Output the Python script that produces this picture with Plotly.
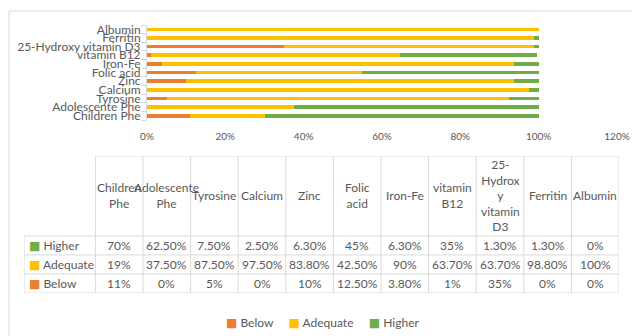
import plotly.graph_objects as go

# ---- data ----
categories = ["Children Phe", "Adolescente Phe", "Tyrosine", "Calcium", "Zinc",
              "Folic acid", "Iron-Fe", "vitamin B12", "25-Hydroxy vitamin D3",
              "Ferritin", "Albumin"]
header_labels = ["Children<br>Phe", "Adolescente<br>Phe", "Tyrosine", "Calcium", "Zinc",
                 "Folic<br>acid", "Iron-Fe", "vitamin<br>B12",
                 "25-<br>Hydrox<br>y<br>vitamin<br>D3", "Ferritin", "Albumin"]
below = [11, 0, 5, 0, 10, 12.5, 3.8, 1, 35, 0, 0]
adequate = [19, 37.5, 87.5, 97.5, 83.8, 42.5, 90, 63.7, 63.7, 98.8, 100]
higher = [70, 62.5, 7.5, 2.5, 6.3, 45, 6.3, 35, 1.3, 1.3, 0]
series_names = ["Below", "Adequate", "Higher"]
x_ticks = [0, 0.2, 0.4, 0.6, 0.8, 1.0, 1.2]

# ---- styles ----
COLORS = {"Below": "#ED7D31", "Adequate": "#FFC000", "Higher": "#70AD47"}
TXT = "#595959"
GRID = "#D9D9D9"
FONT = "Lato, DejaVu Sans, sans-serif"
W, H = 632, 336

series = {"Below": below, "Adequate": adequate, "Higher": higher}

fig = go.Figure()
for name in series_names:
    fig.add_trace(go.Bar(
        y=categories, x=[v / 100 for v in series[name]], orientation="h",
        name=name, marker=dict(color=COLORS[name], line=dict(width=0)),
        showlegend=False))

# invisible trace to anchor the table axes
fig.add_trace(go.Scatter(x=[None], y=[None], xaxis="x2", yaxis="y2",
                         showlegend=False, hoverinfo="skip"))

def fmt(v):
    return f"{int(v)}%" if float(v).is_integer() else f"{v:.2f}%"

# ---- table geometry (in table-axis units) ----
label_w = 1.5
ncol = len(categories)
header_h = 4.2
rows = ["Higher", "Adequate", "Below"]  # top to bottom
nrows = len(rows)
x_total = label_w + ncol
y_total = nrows + header_h

shapes = []
line = dict(color=GRID, width=1)
# vertical lines
shapes.append(dict(type="line", xref="x2", yref="y2", x0=0, x1=0, y0=0, y1=nrows, line=line))
for i in range(ncol + 1):
    xx = label_w + i
    shapes.append(dict(type="line", xref="x2", yref="y2", x0=xx, x1=xx, y0=0, y1=y_total, line=line))
# horizontal lines
for r in range(nrows + 1):
    shapes.append(dict(type="line", xref="x2", yref="y2", x0=0, x1=x_total, y0=r, y1=r, line=line))
shapes.append(dict(type="line", xref="x2", yref="y2", x0=label_w, x1=x_total,
                   y0=y_total, y1=y_total, line=line))
# chart-area border (left and top edges)
shapes.append(dict(type="line", xref="paper", yref="paper", x0=9 / W, x1=9 / W,
                   y0=0, y1=(H - 11) / H, line=line))
shapes.append(dict(type="line", xref="paper", yref="paper", x0=9 / W, x1=1,
                   y0=(H - 11) / H, y1=(H - 11) / H, line=line))

annotations = []
tfont = dict(family=FONT, size=12, color=TXT)
for i, lab in enumerate(header_labels):
    annotations.append(dict(xref="x2", yref="y2", x=label_w + i + 0.5,
                            y=nrows + header_h / 2, text=lab, showarrow=False,
                            font=tfont, align="center", xanchor="center", yanchor="middle"))
for r, name in enumerate(rows):
    yc = nrows - r - 0.5
    annotations.append(dict(xref="x2", yref="y2", x=0, y=yc, xanchor="left", xshift=3,
                            yanchor="middle",
                            text=f"<span style='color:{COLORS[name]}'>■</span> {name}",
                            showarrow=False, font=tfont))
    for i, v in enumerate(series[name]):
        annotations.append(dict(xref="x2", yref="y2", x=label_w + i + 0.5, y=yc,
                                xanchor="center", yanchor="middle",
                                text=fmt(v), showarrow=False, font=tfont))

# legend
sep = "\u00a0" * 5
legend_text = sep.join(f"<span style='color:{COLORS[n]}'>■</span> {n}" for n in series_names)
annotations.append(dict(xref="paper", yref="paper", x=322 / W, y=(H - 322) / H,
                        xanchor="center", yanchor="middle",
                        text=legend_text, showarrow=False, font=tfont))

fig.update_layout(
    width=W, height=H, autosize=False, margin=dict(l=0, r=0, t=0, b=0, autoexpand=False),
    paper_bgcolor="white", plot_bgcolor="white",
    barmode="stack", bargap=0.58,
    font=dict(family=FONT, color=TXT),
    xaxis=dict(domain=[147 / W, 617 / W], range=[0, 1.2], tickvals=x_ticks,
               tickformat=".0%", showgrid=False, zeroline=False, showline=False,
               tickfont=dict(family=FONT, size=10, color=TXT), ticklabelstandoff=9,
               fixedrange=True, automargin=False),
    yaxis=dict(domain=[(H - 120) / H, (H - 25) / H], type="category",
               tickmode="linear", tick0=0, dtick=1, automargin=False,
               showline=True, linecolor=GRID, linewidth=1, ticks="outside",
               ticklen=5, tickcolor=GRID, tickson="boundaries", showgrid=False,
               tickfont=dict(family=FONT, size=12, color=TXT), ticklabelstandoff=3),
    xaxis2=dict(domain=[24 / W, 619 / W], range=[0, x_total], visible=False, anchor="y2",
                automargin=False),
    yaxis2=dict(domain=[(H - 293) / H, (H - 156) / H], range=[0, y_total], visible=False,
                anchor="x2", automargin=False),
    shapes=shapes, annotations=annotations, showlegend=False,
)

fig.write_html("out.html", config={"responsive": False, "displayModeBar": False})
